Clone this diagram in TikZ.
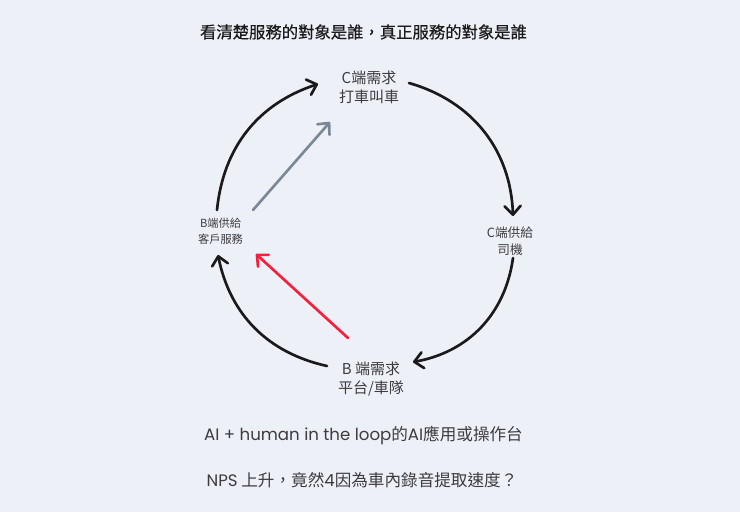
\documentclass[tikz,border=0pt]{standalone}
\usepackage{fontspec}
\setmainfont{Noto Sans CJK TC}
\newfontfamily\LatinFont{Poppins}
\newfontfamily\HeavyFont[FakeBold=0.5]{Noto Sans CJK TC}
\usepackage{xcolor}
\definecolor{ColBack}{RGB}{238,240,247}
\definecolor{ColText}{RGB}{60,60,64}
\definecolor{ColCycle}{RGB}{26,26,28}
\definecolor{ColGrey}{RGB}{122,136,150}
\definecolor{ColRed}{RGB}{243,32,62}
\usetikzlibrary{arrows.meta}
\tikzstyle{Label}=[inner sep=0pt,align=center,text=ColText]
\tikzstyle{Big}=[Label,font=\fontsize{11.25}{14.4}\selectfont]
\tikzstyle{Mid}=[Label,font=\fontsize{9.5}{12.8}\selectfont]
\tikzstyle{Small}=[Label,font=\fontsize{8.4}{12}\selectfont]
\tikzstyle{Line}=[Label,font=\fontsize{12.45}{15}\selectfont]
\tikzstyle{Title}=[Label,text=ColCycle,font=\fontsize{12.26}{15}\HeavyFont]
\tikzstyle{Edge}=[draw=ColCycle,line width=2pt,line cap=round,
-{Straight Barb[length=6.5pt,width=12pt,line width=2pt,round]}]
\tikzstyle{EdgeGrey}=[Edge,draw=ColGrey]
\tikzstyle{EdgeRed}=[Edge,draw=ColRed]

\begin{document}
\begin{tikzpicture}[x=.75pt,y=-.75pt]
        \fill[ColBack](0,0)rectangle(740,512);
        \useasboundingbox(0,0)rectangle(740,512);
        \node[Title](title)at(363.5,32){看清楚服務的對象是誰，真正服務的對象是誰};
        \node[Big](cneed)at(369,87){C端需求\\打車叫車};
        \node[Mid](csupply)at(510,241){C端供給\\司機};
        \node[Big](bneed)at(371,379){B 端需求\\平台/車隊};
        \node[Small](bsupply)at(220.5,231){B端供給\\客戶服務};
        \node[Line](loop)at(363.5,436){{\LatinFont AI + human in the loop}的{\LatinFont AI}應用或操作台};
        \node[Line](nps)at(362,480){{\LatinFont NPS} 上升，竟然{\LatinFont 4}因為車內錄音提取速度？};
        \draw[Edge]([shift={(40,-4)}]cneed.center)to[bend left=36]([shift={(3,-25)}]csupply.center);
        \draw[Edge]([shift={(3,17)}]csupply.center)to[bend left=36]([shift={(42,-17)}]bneed.center);
        \draw[Edge]([shift={(-44,-13)}]bneed.center)to[bend left=33]([shift={(-2.5,24)}]bsupply.center);
        \draw[Edge]([shift={(-3.5,-21)}]bsupply.center)to[bend left=33]([shift={(-51,-3)}]cneed.center);
        \draw[EdgeGrey]([shift={(32.5,-21)}]bsupply.center)--([shift={(-39,35)}]cneed.center);
        \draw[EdgeRed]([shift={(-23,-41)}]bneed.center)--([shift={(35.5,23)}]bsupply.center);
    \end{tikzpicture}
\end{document}
